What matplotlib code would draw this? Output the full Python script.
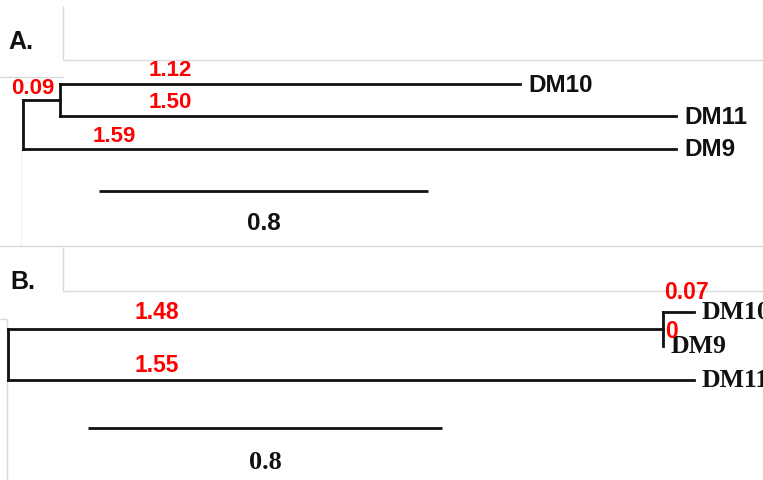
import matplotlib
matplotlib.use("Agg")
import matplotlib.pyplot as plt

W, H = 763, 481
DPI = 100

# Tree A: ((DM10:1.12, DM11:1.50):0.09, DM9:1.59)
a_leaves = ["DM10", "DM11", "DM9"]
a_inner_len = 0.09
a_leaf_len = [1.12, 1.50, 1.59]
a_scale = 0.8

# Tree B: ((DM10:0.07, DM9:0):1.48, DM11:1.55)
b_leaves = ["DM10", "DM9", "DM11"]
b_inner_len = 1.48
b_leaf_len = [0.07, 0, 1.55]
b_scale = 0.8

RED = "#ff0000"
INK = "#111111"
GRID = "#d9d9d9"
LW = 2.0
SANS = "Liberation Sans"
SERIF = "Liberation Serif"


def fmt(v):
    return "0" if v == 0 else f"{v:.2f}"


fig = plt.figure(figsize=(W / DPI, H / DPI), dpi=DPI)

# light panel frame lines (pixel coordinates)
bg = fig.add_axes([0, 0, 1, 1], zorder=0)
bg.set_xlim(0, W)
bg.set_ylim(H, 0)
bg.axis("off")
frame = [
    ([63, 63], [7, 61], GRID), ([63, W], [61, 61], GRID), ([0, 63], [78, 78], GRID),
    ([21, 21], [150, 247], "#f1f1f1"), ([0, W], [247, 247], GRID),
    ([63, 63], [248, 292], GRID), ([63, W], [292, 292], GRID),
    ([0, 7], [320, 320], GRID), ([7, 7], [320, H], GRID),
]
for xs, ys, c in frame:
    bg.plot(xs, ys, color=c, lw=1.0, solid_capstyle="butt")

# ---------------- Panel A ----------------
pxA, rootA = 411.0, 23.0
axA = fig.add_axes([0, (H - 246) / H, 1, 246 / H], zorder=1)
axA.set_xlim(-rootA / pxA, (W - rootA) / pxA)
axA.set_ylim(246, 0)
axA.axis("off")
axA.patch.set_alpha(0)

yA = [85, 117, 150]
y_innerA = (yA[0] + yA[1]) / 2
kw = dict(color=INK, lw=LW, solid_capstyle="projecting", solid_joinstyle="miter")
axA.plot([0, 0], [y_innerA, yA[2]], **kw)
axA.plot([0, a_inner_len], [y_innerA, y_innerA], **kw)
axA.plot([a_inner_len, a_inner_len], [yA[0], yA[1]], **kw)
ends_A = [a_inner_len + a_leaf_len[0], a_inner_len + a_leaf_len[1], a_leaf_len[2]]
starts_A = [a_inner_len, a_inner_len, 0]
for s, e, y, name in zip(starts_A, ends_A, yA, a_leaves):
    axA.plot([s, e], [y, y], **kw)
    axA.text(e + 8 / pxA, y, name, fontsize=17.5, fontweight="bold", family=SANS,
             color=INK, ha="left", va="center")

red_kw = dict(fontsize=16, fontweight="bold", family=SANS, color=RED,
              ha="center", va="center")
axA.text(0.024, 89, fmt(a_inner_len), **red_kw)
axA.text(0.358, 70, fmt(a_leaf_len[0]), **red_kw)
axA.text(0.358, 102.5, fmt(a_leaf_len[1]), **red_kw)
axA.text(0.222, 136, fmt(a_leaf_len[2]), **red_kw)

sbA = 0.185
axA.plot([sbA, sbA + a_scale], [192, 192], color=INK, lw=LW, solid_capstyle="butt")
axA.text(sbA + a_scale / 2, 223.5, f"{a_scale:g}", fontsize=17.5, fontweight="bold",
         family=SANS, color=INK, ha="center", va="center")
axA.text(-15 / pxA, 42, "A.", fontsize=18, fontweight="bold", family=SANS,
         color=INK, ha="left", va="center")

# ---------------- Panel B ----------------
pxB, rootB = 442.6, 8.0
axB = fig.add_axes([0, 0, 1, (H - 246) / H], zorder=1)
axB.set_xlim(-rootB / pxB, (W - rootB) / pxB)
axB.set_ylim(H, 246)
axB.axis("off")
axB.patch.set_alpha(0)

yB = [313, 347, 381]
y_innerB = (yB[0] + yB[1]) / 2
axB.plot([0, 0], [y_innerB, yB[2]], **kw)
axB.plot([0, b_inner_len], [y_innerB, y_innerB], **kw)
axB.plot([b_inner_len, b_inner_len], [yB[0], yB[1]], **kw)
ends_B = [b_inner_len + b_leaf_len[0], b_inner_len + b_leaf_len[1], b_leaf_len[2]]
starts_B = [b_inner_len, b_inner_len, 0]
for s, e, y, name in zip(starts_B, ends_B, yB, b_leaves):
    if e > s:
        axB.plot([s, e], [y, y], **kw)
    axB.text(e + 8 / pxB, y, name, fontsize=18.5, fontweight="bold", family=SERIF,
             color=INK, ha="left", va="center")

red_kwB = dict(red_kw, fontsize=16.5)
axB.text(0.337, 313, fmt(b_inner_len), **red_kwB)
axB.text(0.337, 366, fmt(b_leaf_len[2]), **red_kwB)
axB.text(1.532, 293, fmt(b_leaf_len[0]), **red_kwB)
axB.text(1.500, 332, fmt(b_leaf_len[1]), **red_kwB)

sbB = 0.181
axB.plot([sbB, sbB + b_scale], [429, 429], color=INK, lw=LW, solid_capstyle="butt")
axB.text(sbB + b_scale / 2, 463, f"{b_scale:g}", fontsize=19, fontweight="bold",
         family=SERIF, color=INK, ha="center", va="center")
axB.text(2 / pxB, 282, "B.", fontsize=18, fontweight="bold", family=SANS,
         color=INK, ha="left", va="center")

fig.savefig("out.png", dpi=DPI)
